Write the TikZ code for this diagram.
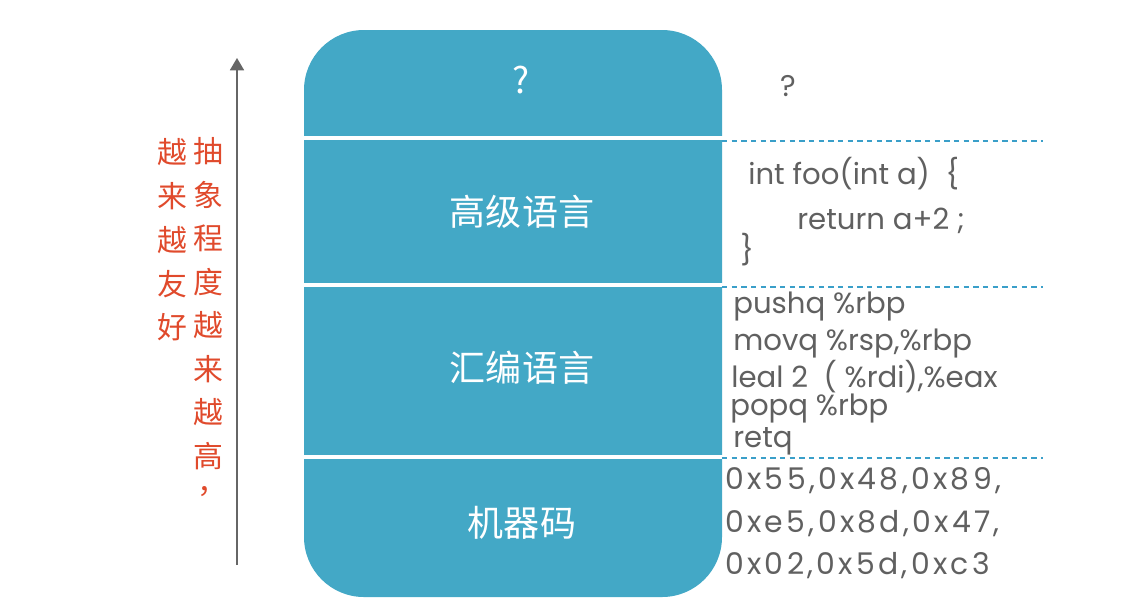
\documentclass[tikz,border=0pt]{standalone}
\usepackage{fontspec}
\setmainfont{Poppins}
\newfontfamily\cjk{Noto Sans CJK SC}
\usetikzlibrary{arrows.meta}
\definecolor{layerblue}{HTML}{43A8C6}
\definecolor{dashblue}{HTML}{3A9FC9}
\definecolor{notered}{HTML}{E04A2C}
\definecolor{codegray}{HTML}{606060}
\tikzset{
  layer/.style={fill=layerblue},
  cut/.style={white,line width=2.4pt},
  level/.style={dashblue,line width=1pt,dash pattern=on 3pt off 2.5pt},
  axis/.style={gray!80!black,line width=0.9pt,-{Triangle[width=8pt,length=7pt]}},
  tag/.style={white,font=\cjk\fontsize{20.5}{20.5}\selectfont},
  note/.style={notered,font=\cjk\fontsize{17}{17}\selectfont,inner sep=0pt,
    text height=0.88em,text depth=0.08em,yshift=-2.2pt},
  code/.style={codegray,anchor=west,inner sep=0pt,font=\fontsize{16.6}{16.6}\selectfont,
    text height=0.72em,text depth=0.2em,yshift=-2.6pt},
  hex/.style={code,font=\fontsize{17}{17}\selectfont\addfontfeatures{LetterSpace=11}}
}
\begin{document}
\begin{tikzpicture}[x=0.02cm,y=-0.02cm]
    \useasboundingbox (0,0) rectangle (1142,613);
    % the stack of layers
    \fill[layer,rounded corners=1.2cm] (304,30) rectangle (722,597);
    \draw[cut] (302,138) -- (724,138);
    \draw[cut] (302,285) -- (724,285);
    \draw[cut] (302,457) -- (724,457);
    \node[tag] (top) at (521,80) {?};
    \node[tag] (high) at (522,212) {高级语言};
    \node[tag] (asm) at (522,368) {汇编语言};
    \node[tag] (mach) at (522,523) {机器码};
    % levels on the right
    \coordinate (h1) at (722,141);
    \coordinate (h2) at (722,287);
    \coordinate (h3) at (722,458);
    \foreach \c in {h1,h2,h3} {
      \draw[level] (\c) -- ++(321,0);
    }
    \node[codegray,font=\fontsize{17}{17}\selectfont] (unk) at (788,86) {?};
    \node[code] (c1) at (748,175) {int foo(int a)\ \ \{};
    \node[code] (c2) at (797,220) {return a+2 ;};
    \node[code] (c3) at (740,251) {\}};
    \node[code] (a1) at (733,304) {pushq \%rbp};
    \node[code] (a2) at (733,341) {movq \%rsp,\%rbp};
    \node[code] (a3) at (731,378) {leal 2\ \ ( \%rdi),\%eax};
    \node[code] (a4) at (730,406) {popq \%rbp};
    \node[code] (a5) at (733,438) {retq};
    \node[hex] (m1) at (725,480) {0x55,0x48,0x89,};
    \node[hex] (m2) at (725,523) {0xe5,0x8d,0x47,};
    \node[hex] (m3) at (725,565) {0x02,0x5d,0xc3};
    % the axis and its notes
    \coordinate (lo) at (237,565);
    \coordinate (hi) at (237,58);
    \draw[axis] (lo) -- (hi);
    \foreach \c [count=\i] in {抽,象,程,度,越,来,越,高} {
      \node[note] (r\i) at (208,152+43.5*\i-43.5) {\c};
    }
    \node[note,anchor=base,text height=0.2em,text depth=0.1em] (r9) at (212,490) {，};
    \foreach \c [count=\i] in {越,来,越,友,好} {
      \node[note] (l\i) at (172,153+43.75*\i-43.75) {\c};
    }
  \end{tikzpicture}
\end{document}
